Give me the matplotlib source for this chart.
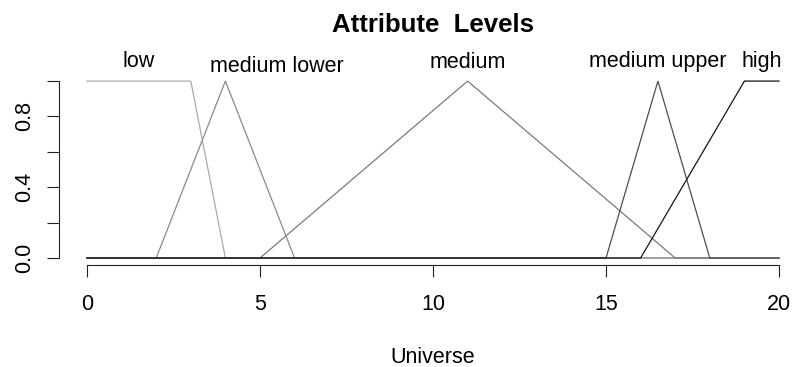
import matplotlib.pyplot as plt

plt.rcParams['font.family'] = ['Liberation Sans', 'DejaVu Sans']

# membership functions on the universe 0..20
universo = [0, 20]
nomes = ['low', 'medium lower', 'medium', 'medium upper', 'high']
pontos_x = [
    [0, 0, 3, 4, 20],
    [0, 2, 4, 6, 20],
    [0, 5, 11, 17, 20],
    [0, 15, 16.5, 18, 20],
    [0, 16, 19, 20],
]
pontos_y = [
    [1, 1, 1, 0, 0],
    [0, 0, 1, 0, 0],
    [0, 0, 1, 0, 0],
    [0, 0, 1, 0, 0],
    [0, 0, 1, 1],
]
# where the set names sit (x, y)
rotulos_x = [1.5, 5.5, 11, 16.5, 19.5]
rotulos_y = [1.08, 1.05, 1.075, 1.08, 1.08]
cores = ['#aaaaaa', '#8a8a8a', '#7a7a7a', '#4e4e4e', '#151515']

fig = plt.figure(figsize=(7.93, 3.67), dpi=100)
ax = fig.add_axes([59.3 / 793, 101.9 / 367, 747.4 / 793, 191.1 / 367])

for xs, ys, c in zip(pontos_x, pontos_y, cores):
    ax.plot(xs, ys, color=c, lw=0.9, solid_joinstyle='miter')

for nome, x, y in zip(nomes, rotulos_x, rotulos_y):
    ax.text(x, y, nome, ha='center', va='baseline', fontsize=15.5, clip_on=False)

ax.set_xlim(-0.8, 20.8)
ax.set_ylim(-0.04, 1.04)

for s in ['top', 'right']:
    ax.spines[s].set_visible(False)
ax.spines['left'].set_bounds(0, 1)
ax.spines['bottom'].set_bounds(0, 20)
for s in ['left', 'bottom']:
    ax.spines[s].set_linewidth(0.8)
    ax.spines[s].set_color('#222222')

ax.set_xticks([0, 5, 10, 15, 20])
ax.set_yticks([0, 0.2, 0.4, 0.6, 0.8, 1.0])
ax.set_yticklabels(['0.0', '', '0.4', '', '0.8', ''], rotation=90, va='center')
ax.tick_params(length=8.6, width=0.8, color='#222222', labelsize=15.5)
ax.tick_params(axis='x', pad=12.5)
ax.tick_params(axis='y', pad=9)

fig.text(433 / 793, 1 - 31.7 / 367, 'Attribute  Levels', ha='center', va='baseline',
         fontsize=18.5, fontweight='bold')
fig.text(433 / 793, 1 - 362.7 / 367, 'Universe', ha='center', va='baseline', fontsize=15.5)

fig.savefig('out.png', dpi=100)
